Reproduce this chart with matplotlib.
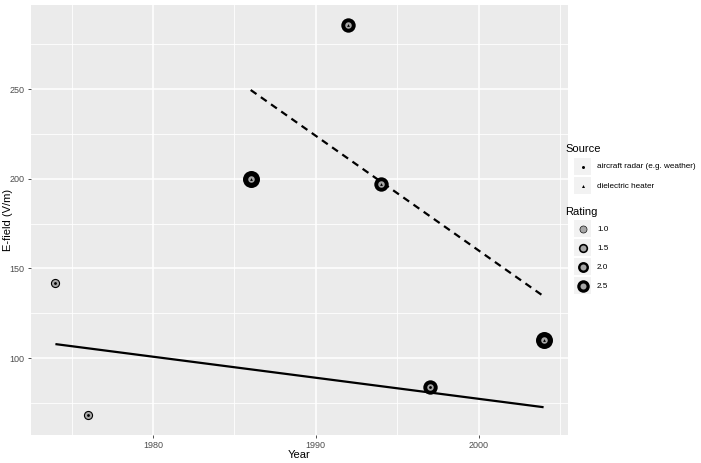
import numpy as np
import matplotlib
matplotlib.use("Agg")
import matplotlib.pyplot as plt
from matplotlib.patches import Rectangle

plt.rcParams['font.family'] = ['Liberation Sans', 'DejaVu Sans']

# data
years = [1974, 1976, 1986, 1992, 1994, 1997, 2004]
efield = [142, 68, 200, 286, 197, 84, 110]
rating = [1.0, 1.0, 2.5, 2.0, 2.0, 2.0, 2.5]
source = ["aircraft radar (e.g. weather)", "aircraft radar (e.g. weather)",
          "dielectric heater", "dielectric heater", "dielectric heater",
          "aircraft radar (e.g. weather)", "dielectric heater"]

# fitted lines (end points)
fit_radar_x = [1974, 2004]
fit_radar_y = [107.8, 72.6]
fit_heater_x = [1986, 2004]
fit_heater_y = [249.5, 134.5]

sources = ["aircraft radar (e.g. weather)", "dielectric heater"]
src_marker = {"aircraft radar (e.g. weather)": "o", "dielectric heater": "^"}
rating_levels = [1.0, 1.5, 2.0, 2.5]

BG = "#EBEBEB"
GREY_FILL = "#A6A6A6"
TXT = "#4D4D4D"

def px2pt(px):
    return px * 0.72

fig = plt.figure(figsize=(7.01, 4.63), dpi=100)
ax = fig.add_axes([31 / 701, 1 - 435 / 463, (568 - 31) / 701, (435 - 5) / 463])
ax.set_facecolor(BG)
for s in ax.spines.values():
    s.set_visible(False)

ax.set_xlim(1972.5, 2005.5)
ax.set_ylim(57.1, 296.9)
ax.set_xticks([1980, 1990, 2000])
ax.set_yticks([100, 150, 200, 250])
ax.set_xticks([1975, 1985, 1995, 2005], minor=True)
ax.set_yticks([75, 125, 175, 225, 275], minor=True)
ax.grid(which="major", color="white", linewidth=1.1)
ax.grid(which="minor", color="white", linewidth=0.6)
ax.set_axisbelow(True)
ax.tick_params(which="major", length=2.5, width=0.6, color="#333333",
               labelsize=6.5, labelcolor=TXT, pad=2)
ax.tick_params(which="minor", length=0)
ax.set_xlabel("Year", fontsize=8)
ax.set_ylabel("E-field (V/m)", fontsize=8)
ax.xaxis.set_label_coords(0.5, -(450 - 435) / 430)
ax.yaxis.set_label_coords((13 - 31) / 537, 0.5)

# fitted lines
ax.plot(fit_radar_x, fit_radar_y, color="black", lw=1.6, solid_capstyle="butt")
ax.plot(fit_heater_x, fit_heater_y, color="black", lw=1.6, ls=(0, (3.2, 2.4)))

# points: black ring (width by rating), grey fill, small source marker
for x, y, r, s in zip(years, efield, rating, source):
    outer = 4 + 5.2 * r
    ax.scatter([x], [y], s=px2pt(outer) ** 2, color="black", zorder=3, linewidths=0)
    ax.scatter([x], [y], s=px2pt(6.5 if r > 1 else 7) ** 2, color=GREY_FILL,
               zorder=4, linewidths=0)
    ax.scatter([x], [y], s=px2pt(2.8) ** 2, color="black", marker=src_marker[s],
               zorder=5, linewidths=0)

# legend drawn in its own pixel-coordinate axes
lg = fig.add_axes([560 / 701, 1 - 300 / 463, 141 / 701, 160 / 463])
lg.set_xlim(560, 701)
lg.set_ylim(300, 140)
lg.axis("off")

lg.text(565, 149, "Source", fontsize=8, va="center", ha="left")
for i, s in enumerate(sources):
    cy = 167 + 19 * i
    lg.add_patch(Rectangle((574, cy - 9), 17, 17, color="#F2F2F2", lw=0))
    lg.scatter([582.5], [cy], s=px2pt(3) ** 2, color="black",
               marker=src_marker[s], linewidths=0)
    lg.text(597, cy, s, fontsize=5.9, va="center", ha="left")

lg.text(565, 212, "Rating", fontsize=8, va="center", ha="left")
for i, r in enumerate(rating_levels):
    cy = 229 + 19 * i
    lg.add_patch(Rectangle((574, cy - 9), 17, 17, color="#F2F2F2", lw=0))
    outer = 4.5 + 3.2 * r
    lg.scatter([582.5], [cy], s=px2pt(outer) ** 2, color="black", linewidths=0)
    lg.scatter([582.5], [cy], s=px2pt(6 if r > 1 else 6.5) ** 2,
               color=GREY_FILL, linewidths=0)
    lg.text(597, cy, f"{r:.1f}", fontsize=5.9, va="center", ha="left")

fig.savefig("out.png", dpi=100)
